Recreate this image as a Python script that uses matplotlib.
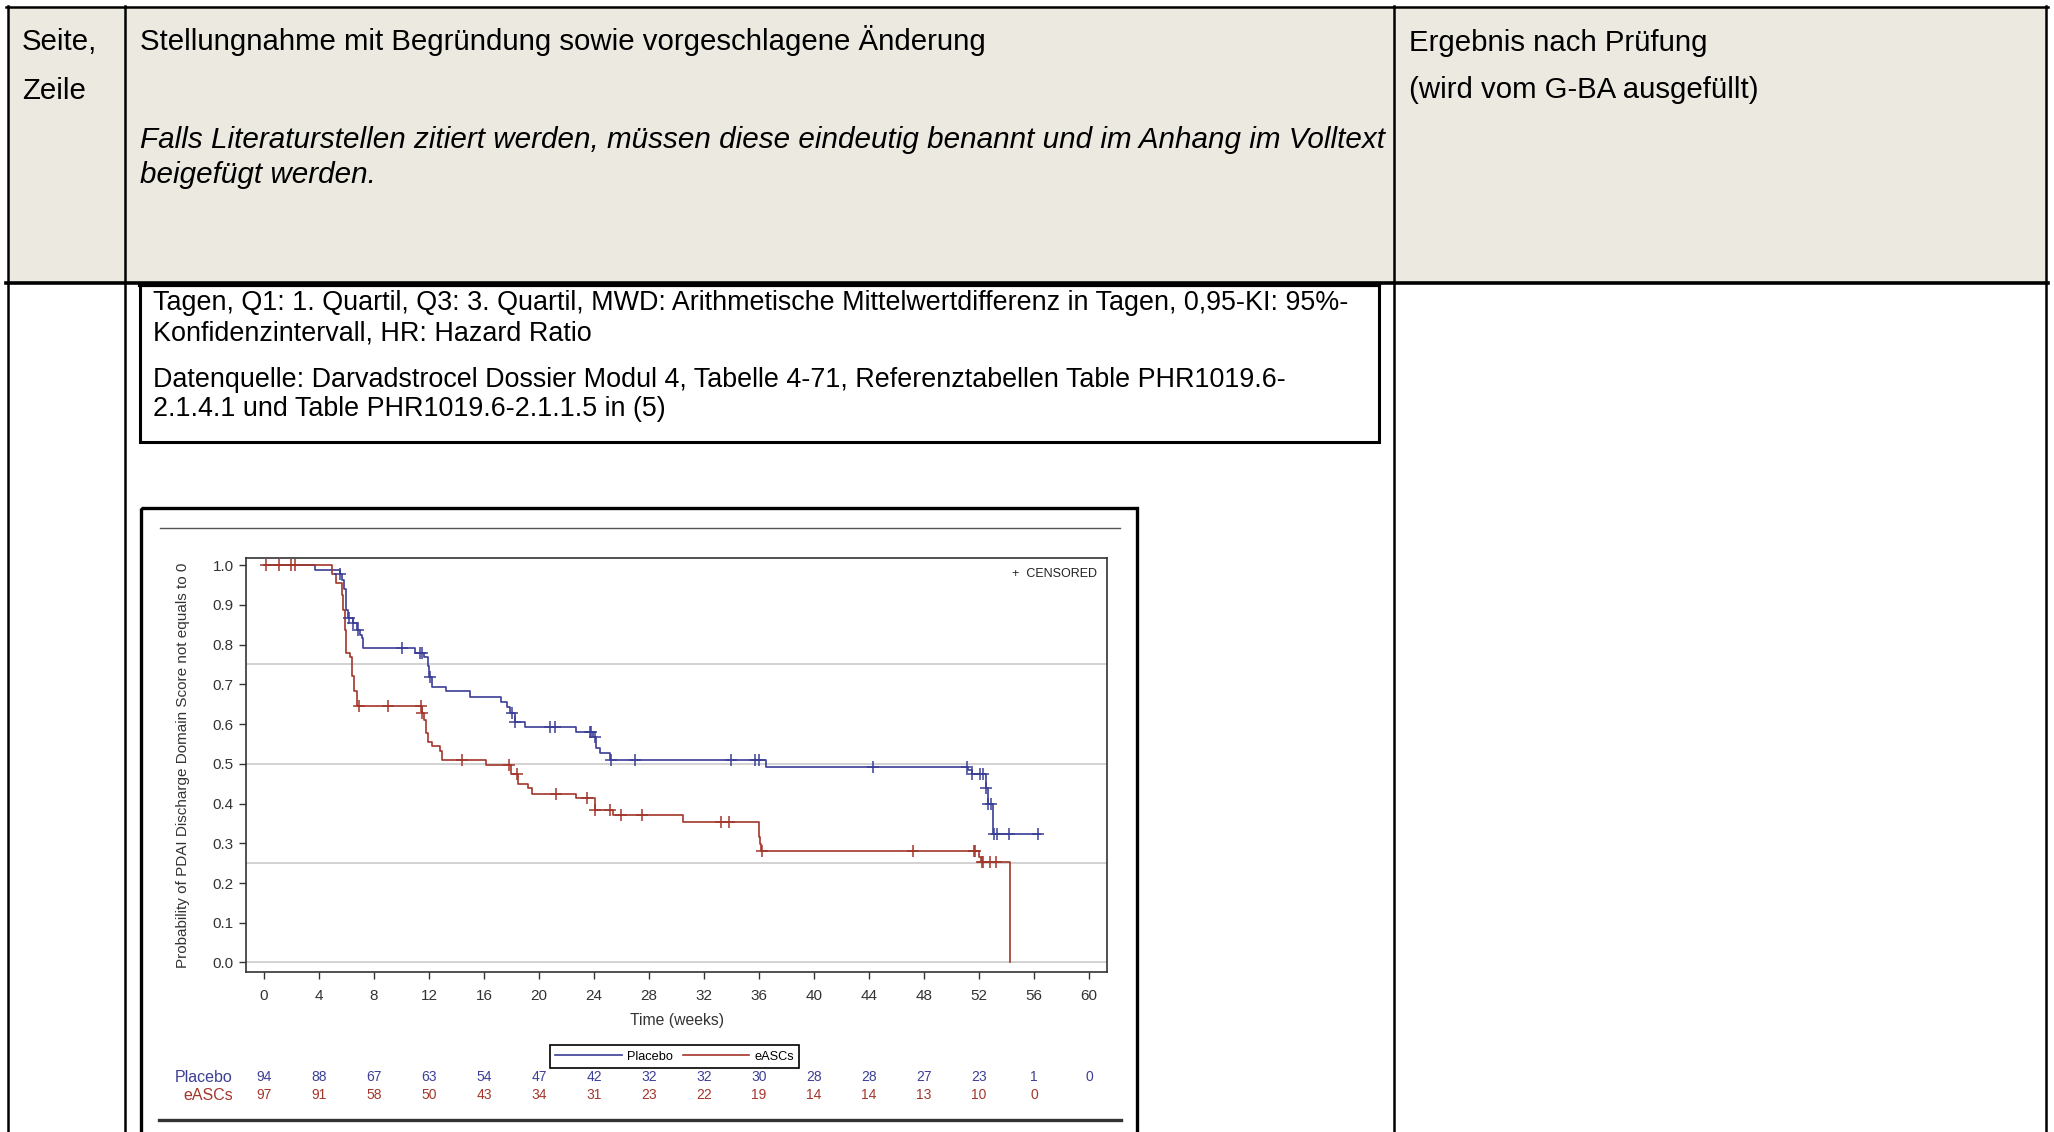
import numpy as np
import matplotlib
matplotlib.use("Agg")
import matplotlib.pyplot as plt
from matplotlib.lines import Line2D
from matplotlib.patches import Rectangle
from matplotlib.transforms import blended_transform_factory

plt.rcParams['font.family'] = ['Liberation Sans', 'DejaVu Sans']

# Kaplan-Meier steps (weeks, survival after the step)
placebo_t = [0, 3.7, 5.53, 5.7, 5.85, 5.95, 6.13, 6.5, 6.74, 6.98, 7.1, 7.23,
             11.0, 11.65, 11.95, 12.0, 12.2, 13.2, 15.0, 17.2, 17.65, 17.9,
             18.25, 19.0, 22.7, 23.9, 24.15, 24.4, 25.16, 36.5, 51.2, 51.45,
             52.5, 52.65, 53.03]
placebo_s = [1.0, 0.987, 0.978, 0.962, 0.94, 0.887, 0.867, 0.854, 0.837, 0.824,
             0.816, 0.792, 0.778, 0.769, 0.746, 0.719, 0.694, 0.682, 0.669,
             0.655, 0.644, 0.627, 0.606, 0.593, 0.581, 0.568, 0.539, 0.526,
             0.510, 0.493, 0.484, 0.474, 0.438, 0.400, 0.323]
placebo_end = 56.45
placebo_cens = [5.55, 6.2, 6.5, 6.86, 10.06, 11.34, 11.47, 12.07, 18.0, 18.25,
                20.8, 21.16, 23.7, 23.8, 24.1, 25.2, 26.96, 33.96, 35.7, 35.97,
                44.3, 51.1, 51.5, 52.1, 52.3, 52.5, 52.65, 52.85, 53.05, 53.28,
                54.2, 56.3]

easc_t = [0, 4.97, 5.2, 5.65, 5.77, 5.89, 5.96, 6.25, 6.4, 6.57, 6.74, 11.5,
          11.65, 11.78, 11.94, 12.25, 12.79, 12.96, 16.15, 17.96, 18.47, 19.2,
          19.5, 22.7, 24.07, 25.4, 30.5, 36.0, 36.08, 36.15, 52.0, 52.15, 54.24]
easc_s = [1.0, 0.978, 0.956, 0.925, 0.887, 0.837, 0.778, 0.77, 0.72, 0.682,
          0.646, 0.627, 0.61, 0.578, 0.556, 0.544, 0.531, 0.510, 0.496, 0.474,
          0.448, 0.438, 0.423, 0.413, 0.384, 0.371, 0.354, 0.316, 0.299, 0.280,
          0.266, 0.252, 0.0]
easc_end = 54.24
easc_cens = [0.15, 1.1, 1.96, 2.25, 6.93, 9.04, 11.4, 11.5, 14.4, 17.8, 18.4,
             21.2, 23.5, 24.1, 25.14, 25.95, 27.5, 33.2, 33.8, 36.2, 47.2, 51.6,
             51.7, 52.2, 52.3, 52.77, 53.2]

weeks = list(range(0, 61, 4))
placebo_risk = [94, 88, 67, 63, 54, 47, 42, 32, 32, 30, 28, 28, 27, 23, 1, 0]
easc_risk = [97, 91, 58, 50, 43, 34, 31, 23, 22, 19, 14, 14, 13, 10, 0]

header_left = ["Seite,", "Zeile"]
header_mid = "Stellungnahme mit Begründung sowie vorgeschlagene Änderung"
header_note = ["Falls Literaturstellen zitiert werden, müssen diese eindeutig benannt und im Anhang im Volltext",
               "beigefügt werden."]
header_right = ["Ergebnis nach Prüfung", "(wird vom G-BA ausgefüllt)"]
box_lines = ["Tagen, Q1: 1. Quartil, Q3: 3. Quartil, MWD: Arithmetische Mittelwertdifferenz in Tagen, 0,95-KI: 95%-",
             "Konfidenzintervall, HR: Hazard Ratio",
             "Datenquelle: Darvadstrocel Dossier Modul 4, Tabelle 4-71, Referenztabellen Table PHR1019.6-",
             "2.1.4.1 und Table PHR1019.6-2.1.1.5 in (5)"]

blue = '#3b3e96'
red = '#a3362b'
grey = '#333333'

W, H = 2054, 1132
fig = plt.figure(figsize=(W / 100, H / 100), dpi=100)

# page layer in pixel coordinates (y down)
page = fig.add_axes([0, 0, 1, 1], zorder=0)
page.set_xlim(0, W)
page.set_ylim(H, 0)
page.axis('off')

# table
page.add_patch(Rectangle((8, 7), 2039, 276, facecolor='#ECE9E0', edgecolor='none'))
page.plot([6, 2048], [7, 7], color='k', lw=1.8)
page.plot([6, 2048], [283, 283], color='k', lw=2.6)
for x in [8, 125, 1394, 2046]:
    page.plot([x, x], [6, H], color='k', lw=1.8)
page.add_patch(Rectangle((140, 284), 1239, 158, fill=False, edgecolor='k', lw=2.2))
page.plot([140, 1379], [285, 285], color='k', lw=3)

doc_size = 21.2
page.text(22, 50, header_left[0], fontsize=doc_size, va='baseline')
page.text(22, 99, header_left[1], fontsize=doc_size, va='baseline')
page.text(140, 50, header_mid, fontsize=doc_size, va='baseline')
page.text(140, 148, header_note[0], fontsize=21.3, va='baseline', style='italic')
page.text(140, 183, header_note[1], fontsize=21.3, va='baseline', style='italic')
page.text(1409, 51, header_right[0], fontsize=doc_size, va='baseline')
page.text(1409, 98, header_right[1], fontsize=doc_size, va='baseline')
for txt, yb in zip(box_lines, [310, 340, 387, 416]):
    page.text(153, yb, txt, fontsize=19.35, va='baseline')

# chart frame
page.add_patch(Rectangle((141, 508), 996, 700, fill=False, edgecolor='k', lw=2.4))
page.plot([160, 1120], [528, 528], color='#555555', lw=1)
page.plot([159, 1121], [1120, 1120], color=grey, lw=2.4)

# KM plot
ax = fig.add_axes([246 / W, 1 - 972 / H, (1107 - 246) / W, (972 - 558) / H], zorder=1)
ax.set_xlim(-1.31, 61.3)
ax.set_ylim(-0.024, 1.018)
for yv in [0, 0.25, 0.5, 0.75]:
    ax.axhline(yv, color='#cfcfcf', lw=1.3, zorder=1)


def km(ax, t, s, end, cens, color):
    tt = list(t) + [end]
    ss = list(s) + [s[-1]]
    ax.step(tt, ss, where='post', color=color, lw=1.2, zorder=3)
    idx = np.searchsorted(np.array(t), np.array(cens), side='right') - 1
    cy = np.array(s)[idx]
    ax.plot(cens, cy, linestyle='none', marker='+', ms=8, mew=1.1, color=color, zorder=4)


km(ax, placebo_t, placebo_s, placebo_end, placebo_cens, blue)
km(ax, easc_t, easc_s, easc_end, easc_cens, red)

ax.set_xticks(weeks)
ax.set_yticks(np.round(np.arange(0, 1.01, 0.1), 1))
ax.yaxis.set_major_formatter(plt.FormatStrFormatter('%.1f'))
ax.tick_params(direction='out', length=5, width=1, color=grey, labelcolor=grey,
               labelsize=11)
ax.tick_params(axis='x', pad=7)
ax.tick_params(axis='y', pad=4)
for sp in ax.spines.values():
    sp.set_color(grey)
    sp.set_linewidth(1.2)

ax.text(0.988, 0.961, '+  CENSORED', transform=ax.transAxes, ha='right', va='center',
        fontsize=9, color='#222222')

bt = blended_transform_factory(ax.transData, page.transData)
page.text(30, 1020, 'Time (weeks)', transform=bt, ha='center', va='center',
          fontsize=11.3, color=grey)
page.text(183, 765, 'Probability of PDAI Discharge Domain Score not equals to 0',
          rotation=90, ha='center', va='center', fontsize=11, color=grey)

# number at risk
page.text(233, 1077, 'Placebo', ha='right', va='center', fontsize=11.5, color=blue)
page.text(233, 1095, 'eASCs', ha='right', va='center', fontsize=11.5, color=red)
for w, n in zip(weeks, placebo_risk):
    page.text(w, 1077, str(n), transform=bt, ha='center', va='center', fontsize=10, color=blue)
for w, n in zip(weeks, easc_risk):
    page.text(w, 1095, str(n), transform=bt, ha='center', va='center', fontsize=10, color=red)

handles = [Line2D([0], [0], color=blue, lw=1.2, label='Placebo'),
           Line2D([0], [0], color=red, lw=1.2, label='eASCs')]
leg = ax.legend(handles=handles, loc='center', bbox_to_anchor=(674.5 / W, 1 - 1056.5 / H),
                bbox_transform=fig.transFigure, ncol=2, fancybox=False, edgecolor='k',
                fontsize=9.2, handlelength=5.2, columnspacing=0.8, borderpad=0.4,
                handletextpad=0.4, framealpha=1)
leg.get_frame().set_linewidth(1.2)

fig.savefig('out.png', dpi=100)
